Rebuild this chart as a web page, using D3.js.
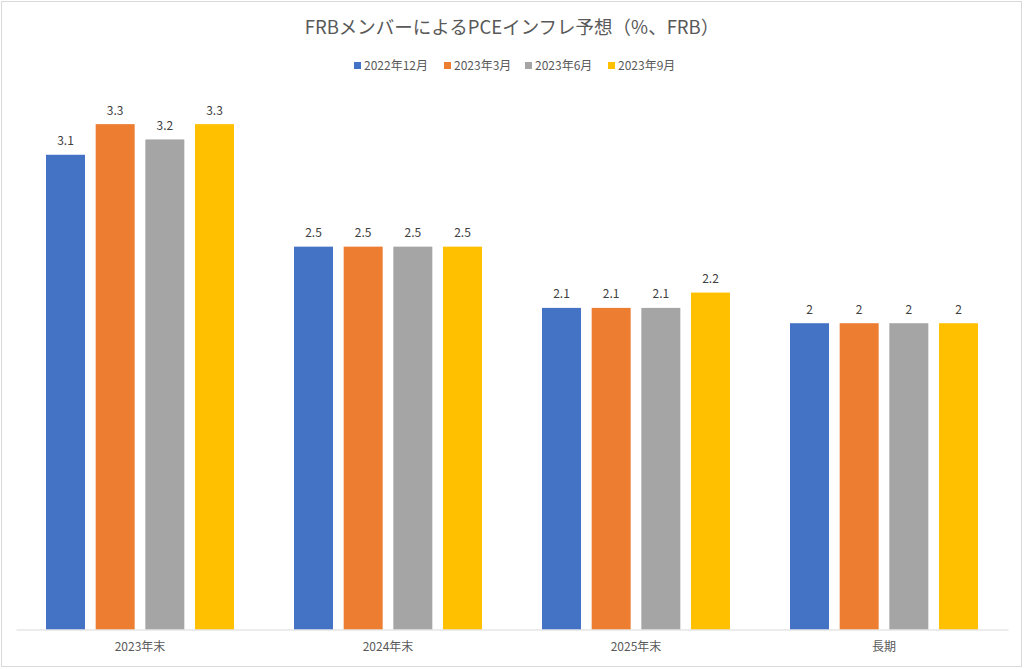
<!DOCTYPE html>
<html>
<head>
<meta charset="utf-8">
<script src="https://cdn.jsdelivr.net/npm/d3@7"></script>
<style>
  body { margin: 0; background: #fff; }
  text { font-family: "Noto Sans CJK JP", "Noto Sans", sans-serif; }
</style>
</head>
<body>
<div id="chart"></div>
<script>
var categories = ['2023年末', '2024年末', '2025年末', '長期'];
var seriesNames = ['2022年12月', '2023年3月', '2023年6月', '2023年9月'];
var dec2022 = [3.1, 2.5, 2.1, 2];
var mar2023 = [3.3, 2.5, 2.1, 2];
var jun2023 = [3.2, 2.5, 2.1, 2];
var sep2023 = [3.3, 2.5, 2.2, 2];
var colors = ['#4472c4', '#ed7d31', '#a5a5a5', '#ffc000'];

var width = 1024, height = 669;
var margin = {top: 93.5, right: 16, bottom: 39.5, left: 16};

var series = [dec2022, mar2023, jun2023, sep2023];
var data = [];
categories.forEach(function (c, i) {
    series.forEach(function (s, j) {
        data.push({cat: c, key: seriesNames[j], value: s[i], idx: j});
    });
});

var svg = d3.select('#chart').append('svg')
    .attr('width', width)
    .attr('height', height);

// chart border
svg.append('rect')
    .attr('x', 1.5).attr('y', 1.5)
    .attr('width', width - 4).attr('height', height - 4)
    .attr('fill', '#fff')
    .attr('stroke', '#d9d9d9');

var x0 = d3.scaleBand()
    .domain(categories)
    .range([margin.left, width - margin.right])
    .paddingInner(0.242)
    .paddingOuter(0.121);

var x1 = d3.scaleBand()
    .domain(seriesNames)
    .range([0, x0.bandwidth()])
    .paddingInner(0.215);

var y = d3.scaleLinear()
    .domain([0, 3.5])
    .range([height - margin.bottom, margin.top]);

// bars
svg.append('g').selectAll('rect')
    .data(data)
    .join('rect')
    .attr('x', d => x0(d.cat) + x1(d.key))
    .attr('y', d => y(d.value))
    .attr('width', x1.bandwidth())
    .attr('height', d => y(0) - y(d.value))
    .attr('fill', d => colors[d.idx]);

// value labels
svg.append('g').selectAll('text')
    .data(data)
    .join('text')
    .attr('x', d => x0(d.cat) + x1(d.key) + x1.bandwidth() / 2)
    .attr('y', d => y(d.value) - 9.5)
    .attr('text-anchor', 'middle')
    .attr('font-size', 12)
    .attr('fill', '#404040')
    .text(d => d.value);

// x axis
var xAxis = svg.append('g')
    .attr('transform', 'translate(0,' + y(0) + ')')
    .call(d3.axisBottom(x0).tickSize(0).tickPadding(13));
xAxis.select('.domain').attr('stroke', '#d9d9d9').attr('stroke-width', 1.2);
xAxis.selectAll('text')
    .attr('font-size', 12)
    .attr('fill', '#595959')
    .attr('font-family', '"Noto Sans CJK JP", "Noto Sans", sans-serif');

// title
svg.append('text')
    .attr('x', width / 2)
    .attr('y', 34)
    .attr('text-anchor', 'middle')
    .attr('font-size', 18.5)
    .attr('fill', '#595959')
    .text('FRBメンバーによるPCEインフレ予想（%、FRB）');

// legend
var legendX = [354, 444, 525, 608];
var legend = svg.append('g').selectAll('g')
    .data(seriesNames)
    .join('g')
    .attr('transform', (d, i) => 'translate(' + legendX[i] + ',65.5)');
legend.append('rect')
    .attr('x', 0).attr('y', -3.5)
    .attr('width', 7).attr('height', 7)
    .attr('fill', (d, i) => colors[i]);
legend.append('text')
    .attr('x', 10)
    .attr('y', 4.5)
    .attr('font-size', 12)
    .attr('fill', '#595959')
    .text(d => d);
</script>
</body>
</html>
